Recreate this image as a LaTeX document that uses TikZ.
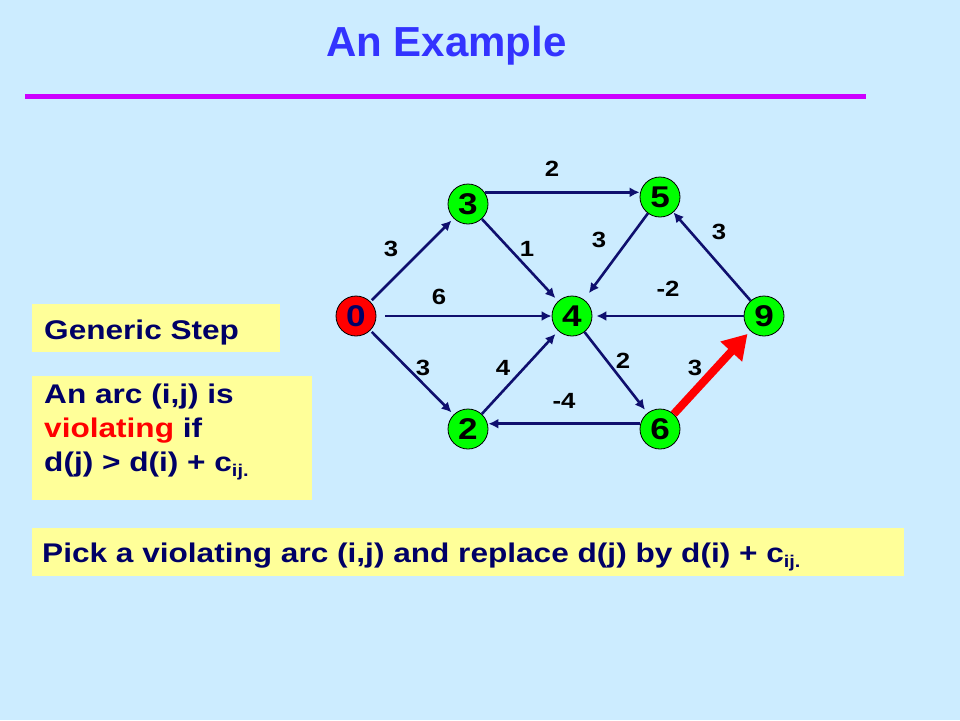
\documentclass[tikz,border=0pt]{standalone}
\usepackage{fontspec}
\setmainfont{Liberation Sans}
\usetikzlibrary{arrows.meta,calc}
\definecolor{bg}{RGB}{204,236,255}
\definecolor{navy}{RGB}{0,0,102}
\definecolor{arrowblue}{RGB}{15,15,110}
\definecolor{titleblue}{RGB}{51,51,255}
\definecolor{magline}{RGB}{204,0,255}
\definecolor{boxyellow}{RGB}{255,255,153}
\definecolor{nodegreen}{RGB}{0,255,0}
\definecolor{redc}{RGB}{255,0,0}
\newcommand{\widetxt}[1]{\scalebox{1.17}[1]{#1}}
\newcommand{\subij}{\raisebox{-5pt}{\fontsize{17}{17}\selectfont ij.}}
\begin{document}
\begin{tikzpicture}[x=1pt,y=-1pt,
  vertex/.style={circle,draw=black,line width=0.8pt,fill=nodegreen,minimum size=40pt,inner sep=0pt,font=\fontsize{30}{30}\selectfont\bfseries},
  arc/.style={draw=arrowblue,line width=2.6pt,-{Latex[length=10pt,width=10pt]}},
  wt/.style={inner sep=0pt,font=\fontsize{22}{22}\selectfont\bfseries},
  body/.style={inner sep=0pt,anchor=base west,text=navy,font=\fontsize{27}{34}\selectfont\bfseries}
]
\fill[bg] (0,0) rectangle (960,720);
\useasboundingbox (0,0) rectangle (960,720);

% title
\node[anchor=base,inner sep=0pt,text=titleblue,font=\fontsize{42}{42}\selectfont\bfseries] (title) at (446.5,56.7) {An Example};
\draw[magline,line width=5pt] (25,96.5) -- (866,96.5);

% yellow boxes
\fill[boxyellow] (32,304) rectangle (280,352);
\fill[boxyellow] (32,376) rectangle (312,500);
\fill[boxyellow] (32,528) rectangle (904,576);

\node[body] (gs) at (44,339) {\widetxt{Generic Step}};
\node[body] (l1) at (44,403.3) {\widetxt{An arc (i,j) is}};
\node[body] (l2) at (44,437.7) {\widetxt{{\color{redc}violating} if}};
\node[body] (l3) at (44,471.7) {\widetxt{d(j) > d(i) + c\subij}};
\node[body] (pick) at (42,562) {\widetxt{Pick a violating arc (i,j) and replace d(j) by d(i) + c\subij}};

% graph nodes
\node[vertex,fill=redc,text=navy] (n0) at (356,316) {\widetxt{0}};
\node[vertex] (n3) at (468,204) {\widetxt{3}};
\node[vertex] (n5) at (660,197) {\widetxt{5}};
\node[vertex] (n4) at (572,316) {\widetxt{4}};
\node[vertex] (n9) at (764,316) {\widetxt{9}};
\node[vertex] (n2) at (468,429) {\widetxt{2}};
\node[vertex] (n6) at (660,429) {\widetxt{6}};

% arcs
\draw[arc,shorten <=2pt,shorten >=3pt] (n0) -- (n3);
\draw[arc,shorten <=9pt] (n0) -- (n4);
\draw[arc,shorten <=2pt,shorten >=3pt] (n0) -- (n2);
\draw[arc] (n3.35) -- (n5.west |- n3.35);
\draw[arc,shorten >=4pt] (n3) -- (n4);
\draw[arc,shorten >=8pt] (n5) -- (n4);
\draw[arc] (n9) -- (n5);
\draw[arc,shorten >=4pt] (n9) -- (n4);
\draw[arc,shorten >=4pt] (n4) -- (n6);
\draw[arc,shorten >=4pt] (n2) -- (n4);
\draw[arc] (n6.165) -- (n2.east |- n6.165);
\draw[draw=redc,line width=8pt,-{Triangle[length=24pt,width=28pt]},shorten >=4pt] (n6) -- (n9);

% weights
\node[wt] (w35) at (552,169) {\widetxt{2}};
\node[wt] (w03) at (391,249) {\widetxt{3}};
\node[wt] (w34) at (527,249) {\widetxt{1}};
\node[wt] (w54) at (599,240) {\widetxt{3}};
\node[wt] (w95) at (719,232) {\widetxt{3}};
\node[wt] (w04) at (439,297) {\widetxt{6}};
\node[wt] (w94) at (668,289) {\widetxt{-2}};
\node[wt] (w02) at (423,368) {\widetxt{3}};
\node[wt] (w24) at (503,368) {\widetxt{4}};
\node[wt] (w46) at (623,361) {\widetxt{2}};
\node[wt] (w69) at (695,368) {\widetxt{3}};
\node[wt] (w62) at (564,401) {\widetxt{-4}};
\end{tikzpicture}
\end{document}
